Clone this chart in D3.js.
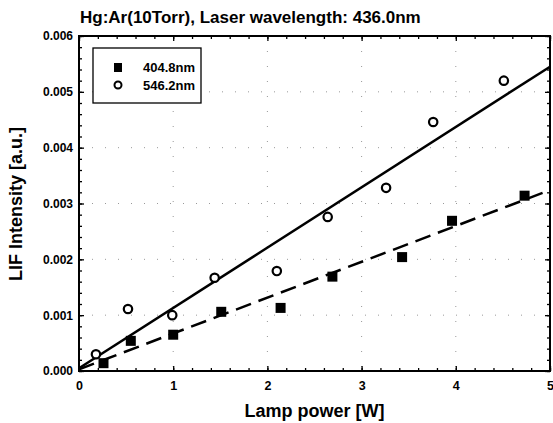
<!DOCTYPE html>
<html>
<head>
<meta charset="utf-8">
<script src="https://cdn.jsdelivr.net/npm/d3@7"></script>
<style>
  body { margin: 0; background: #fff; }
  svg { font-family: "Liberation Sans", Arial, sans-serif; }
</style>
</head>
<body>
<svg width="553" height="423"></svg>
<script>
// data
var power404 = [0.26, 0.55, 1.00, 1.51, 2.14, 2.69, 3.43, 3.96, 4.73];
var lif404   = [0.00014, 0.00054, 0.00065, 0.00106, 0.00113, 0.00169, 0.00204, 0.00269, 0.00314];
var power546 = [0.18, 0.52, 0.99, 1.44, 2.10, 2.64, 3.26, 3.76, 4.51];
var lif546   = [0.00030, 0.00111, 0.00100, 0.00167, 0.00179, 0.00276, 0.00328, 0.00446, 0.00520];
// linear fits: [intercept, slope]
var fit404 = [0.00003, 0.000642];
var fit546 = [0.00005, 0.00108];
var xTicks = [0, 1, 2, 3, 4, 5];
var yTicks = [0, 0.001, 0.002, 0.003, 0.004, 0.005, 0.006];
var legendLabels = ['404.8nm', '546.2nm'];

var margin = {top: 36, right: 3, bottom: 52, left: 79};
var width = 553 - margin.left - margin.right;
var height = 423 - margin.top - margin.bottom;

var svg = d3.select('svg');
var g = svg.append('g')
  .attr('transform', 'translate(' + margin.left + ',' + margin.top + ')');

var x = d3.scaleLinear().domain([0, 5]).range([0, width]);
var y = d3.scaleLinear().domain([0, 0.006]).range([height, 0]);

// faint dotted grid
g.selectAll('.gx').data(xTicks.slice(1, -1)).enter().append('line')
  .attr('x1', d => x(d)).attr('x2', d => x(d))
  .attr('y1', 0).attr('y2', height)
  .attr('stroke', '#999').attr('stroke-width', 1)
  .attr('stroke-dasharray', '1,14');
g.selectAll('.gy').data(yTicks.slice(1, -1)).enter().append('line')
  .attr('y1', d => y(d)).attr('y2', d => y(d))
  .attr('x1', 0).attr('x2', width)
  .attr('stroke', '#999').attr('stroke-width', 1)
  .attr('stroke-dasharray', '1,12');

// axes with inward ticks on all sides
var xMinor = d3.range(0, 5.001, 0.2);
var yMinor = d3.range(0, 0.00601, 0.0002);

function tickSide(axisFn, scale, vals, size, tr) {
  g.append('g').attr('transform', tr)
    .call(axisFn(scale).tickValues(vals).tickSize(size).tickFormat(''))
    .call(s => s.select('.domain').remove())
    .selectAll('line').attr('stroke', '#000').attr('stroke-width', 1.3);
}
tickSide(d3.axisTop, x, xMinor, 3, 'translate(0,' + height + ')');
tickSide(d3.axisTop, x, xTicks, 5, 'translate(0,' + height + ')');
tickSide(d3.axisBottom, x, xMinor, 3, 'translate(0,0)');
tickSide(d3.axisBottom, x, xTicks, 5, 'translate(0,0)');
tickSide(d3.axisRight, y, yMinor, 3, 'translate(0,0)');
tickSide(d3.axisRight, y, yTicks, 5, 'translate(0,0)');
tickSide(d3.axisLeft, y, yMinor, 3, 'translate(' + width + ',0)');
tickSide(d3.axisLeft, y, yTicks, 5, 'translate(' + width + ',0)');

// tick labels
g.append('g').attr('transform', 'translate(0,' + height + ')')
  .call(d3.axisBottom(x).tickValues(xTicks).tickSize(0).tickPadding(10).tickFormat(d3.format('d')))
  .call(s => s.select('.domain').remove())
  .selectAll('text').attr('font-size', 12.5).attr('font-weight', 'bold')
  .attr('font-family', '"Liberation Sans", Arial, sans-serif').attr('fill', '#000');
g.append('g')
  .call(d3.axisLeft(y).tickValues(yTicks).tickSize(0).tickPadding(6).tickFormat(d3.format('.3f')))
  .call(s => s.select('.domain').remove())
  .selectAll('text').attr('font-size', 12).attr('font-weight', 'bold')
  .attr('font-family', '"Liberation Sans", Arial, sans-serif').attr('fill', '#000');

// frame
g.append('rect').attr('width', width).attr('height', height)
  .attr('fill', 'none').attr('stroke', '#000').attr('stroke-width', 2);

// fit lines
function fitPts(f) { return [0, 5].map(v => [x(v), y(f[0] + f[1] * v)]); }
var line = d3.line();
g.append('path').attr('d', line(fitPts(fit546)))
  .attr('stroke', '#000').attr('stroke-width', 2.5).attr('fill', 'none');
g.append('path').attr('d', line(fitPts(fit404)))
  .attr('stroke', '#000').attr('stroke-width', 2.5).attr('fill', 'none')
  .attr('stroke-dasharray', '16,8');

// points
g.selectAll('.sq').data(power404).enter().append('rect')
  .attr('x', (d, i) => x(d) - 5).attr('y', (d, i) => y(lif404[i]) - 5)
  .attr('width', 10).attr('height', 10).attr('fill', '#000');
g.selectAll('.ci').data(power546).enter().append('circle')
  .attr('cx', d => x(d)).attr('cy', (d, i) => y(lif546[i]))
  .attr('r', 4.2).attr('fill', '#fff').attr('stroke', '#000').attr('stroke-width', 2.2);

// legend
var lg = svg.append('g').attr('transform', 'translate(93,48)');
lg.append('rect').attr('width', 108).attr('height', 55)
  .attr('fill', '#fff').attr('stroke', '#000').attr('stroke-width', 1.3);
lg.append('rect').attr('x', 21).attr('y', 15).attr('width', 8).attr('height', 9).attr('fill', '#000');
lg.append('circle').attr('cx', 25).attr('cy', 37).attr('r', 3.5)
  .attr('fill', '#fff').attr('stroke', '#000').attr('stroke-width', 2);
lg.selectAll('.lt').data(legendLabels).enter().append('text')
  .attr('x', 50).attr('y', (d, i) => 24 + i * 18)
  .attr('font-size', 13).attr('font-weight', 'bold').text(d => d);

// titles
svg.append('text').attr('x', 80).attr('y', 23)
  .attr('font-size', 17).attr('font-weight', 'bold')
  .text('Hg:Ar(10Torr), Laser wavelength: 436.0nm');
svg.append('text').attr('x', margin.left + width / 2).attr('y', 417)
  .attr('text-anchor', 'middle').attr('font-size', 18).attr('font-weight', 'bold')
  .text('Lamp power [W]');
svg.append('text').attr('transform', 'translate(22,204) rotate(-90)')
  .attr('text-anchor', 'middle').attr('font-size', 18).attr('font-weight', 'bold')
  .text('LIF Intensity [a.u.]');
</script>
</body>
</html>
